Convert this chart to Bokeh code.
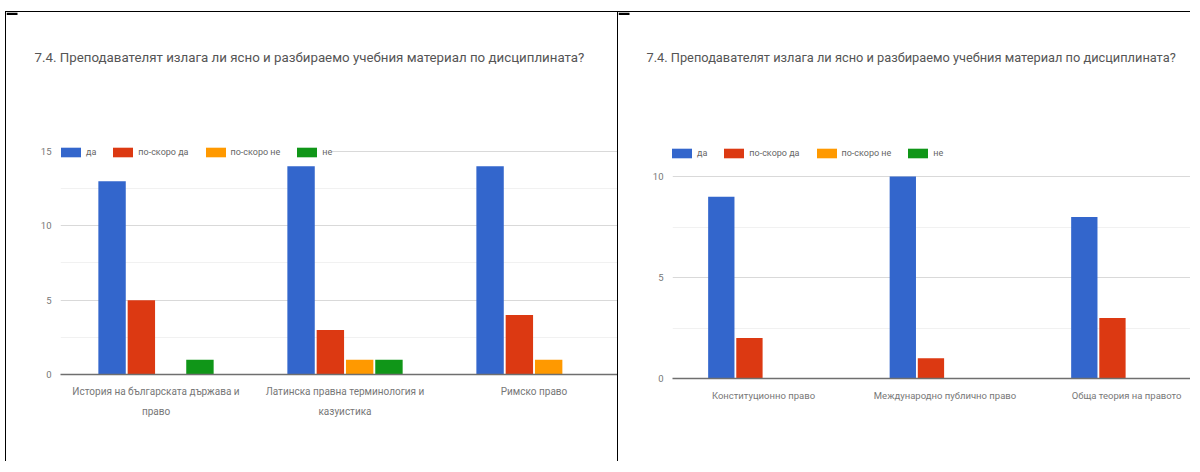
from bokeh.plotting import figure
from bokeh.models import (Range1d, FixedTicker, Legend, LegendItem,
                          ColumnDataSource)
from bokeh.layouts import row, column
from bokeh.transform import dodge
from bokeh.core.properties import value
from bokeh.embed import file_html
from bokeh.resources import INLINE

# ---------------- data ----------------
title_text = "7.4. Преподавателят излага ли ясно и разбираемо учебния материал по дисциплината?"
series = ["да", "по-скоро да", "по-скоро не", "не"]
colors = ["#3366CC", "#DC3912", "#FF9900", "#109618"]

left_categories = ["История на българската държава и право",
                   "Латинска правна терминология и казуистика",
                   "Римско право"]
left_tick_labels = ["История на българската държава и\nправо",
                    "Латинска правна терминология и\nказуистика",
                    "Римско право"]
left_da = [13, 14, 14]
left_po_skoro_da = [5, 3, 4]
left_po_skoro_ne = [0, 1, 1]
left_ne = [1, 1, 0]
left_y_ticks = [0, 5, 10, 15]
left_y_minor = [2.5, 7.5, 12.5]

right_categories = ["Конституционно право",
                    "Международно публично право",
                    "Обща теория на правото"]
right_tick_labels = ["Конституционно право",
                     "Международно публично право",
                     "Обща теория на правото"]
right_da = [9, 10, 8]
right_po_skoro_da = [2, 1, 3]
right_po_skoro_ne = [0, 0, 0]
right_ne = [0, 0, 0]
right_y_ticks = [0, 5, 10]
right_y_minor = [2.5, 7.5]

FONT = "Roboto"
HEAD_H = 100
CHART_H = 350


def make_header(width, title_x, title_y, size):
    h = figure(width=width, height=HEAD_H, x_range=Range1d(0, width),
               y_range=Range1d(HEAD_H, 0), min_border=0,
               min_border_left=0, min_border_right=0,
               min_border_top=0, min_border_bottom=0, title=None,
               toolbar_location=None, output_backend="svg")
    h.frame_align = False
    h.axis.visible = False
    h.grid.grid_line_color = None
    h.outline_line_color = None
    # small thick corner mark of the table cell
    h.quad(left=[0], right=[11], top=[0], bottom=[2.5],
           fill_color="#000000", line_color=None)
    h.text(x=[title_x], y=[title_y], text=[title_text],
           text_font=value(FONT), text_font_size=value(size),
           text_color="#555555", text_baseline="middle", text_align="left")
    h.styles = {"border-left": "1px solid #000", "border-top": "1px solid #000"}
    return h


def make_chart(categories, tick_labels, values, width, x_start, x_end,
               y_end, y_ticks, y_minor, min_left, min_bottom, legend_loc,
               xlabel_size):
    idx = list(range(len(categories)))
    data = {"x": idx, "cat": categories}
    for i, v in enumerate(values):
        data["s%d" % i] = v
    src = ColumnDataSource(data)

    p = figure(width=width, height=CHART_H, title=None,
               x_range=Range1d(x_start, x_end), y_range=Range1d(0, y_end),
               min_border_left=min_left, min_border_right=0,
               min_border_top=0, min_border_bottom=min_bottom,
               toolbar_location=None, output_backend="svg")
    p.frame_align = False
    p.outline_line_color = None

    step = 0.155
    renderers = []
    for i, (name, col) in enumerate(zip(series, colors)):
        off = (i - 1.5) * step
        r = p.vbar(x=dodge("x", off, range=p.x_range), top="s%d" % i, bottom=0,
                   width=0.145, source=src, fill_color=col, line_color=None)
        renderers.append(r)

    yt = FixedTicker(ticks=y_ticks, minor_ticks=y_minor)
    p.yaxis.ticker = yt
    p.ygrid.ticker = yt
    p.xgrid.grid_line_color = None
    p.ygrid.grid_line_color = "#d9d9d9"
    p.ygrid.minor_grid_line_color = "#f1f1f1"
    p.yaxis.axis_line_color = None
    p.yaxis.major_tick_line_color = None
    p.yaxis.minor_tick_line_color = None
    p.yaxis.major_tick_out = 0
    p.yaxis.minor_tick_out = 0
    p.yaxis.major_label_standoff = 9
    p.yaxis.major_label_text_font = FONT
    p.yaxis.major_label_text_font_size = "9.5px"
    p.yaxis.major_label_text_color = "#777777"

    p.xaxis.ticker = FixedTicker(ticks=idx)
    p.xaxis.major_label_overrides = {i: t for i, t in zip(idx, tick_labels)}
    p.xaxis.axis_line_color = "#6f6f6f"
    p.xaxis.axis_line_width = 1.5
    p.xaxis.major_tick_line_color = None
    p.xaxis.minor_tick_line_color = None
    p.xaxis.major_tick_out = 0
    p.xaxis.minor_tick_out = 0
    p.xaxis.major_label_standoff = 11
    p.xaxis.major_label_text_font = FONT
    p.xaxis.major_label_text_font_size = xlabel_size
    p.xaxis.major_label_text_color = "#777777"
    p.xaxis.major_label_text_line_height = 1.9

    legend = Legend(items=[LegendItem(label=s, renderers=[r])
                           for s, r in zip(series, renderers)],
                    location=legend_loc, orientation="horizontal",
                    glyph_width=25, glyph_height=12, label_height=10,
                    label_width=0, label_standoff=3, spacing=14,
                    padding=0, margin=0,
                    border_line_color=None, background_fill_color="white",
                    background_fill_alpha=1.0,
                    label_text_font=FONT, label_text_font_size="9px",
                    label_text_color="#666666")
    p.add_layout(legend)
    p.styles = {"border-left": "1px solid #000"}
    return p


h1 = make_header(612, 28, 45, "13.3px")
c1 = make_chart(left_categories, left_tick_labels,
                [left_da, left_po_skoro_da, left_po_skoro_ne, left_ne],
                width=612, x_start=-0.5053, x_end=2.447,
                y_end=263 / 14.87, y_ticks=left_y_ticks, y_minor=left_y_minor,
                min_left=54, min_bottom=87, legend_loc=(-2, 216),
                xlabel_size="10px")

h2 = make_header(573, 28, 45, "12.8px")
c2 = make_chart(right_categories, right_tick_labels,
                [right_da, right_po_skoro_da, right_po_skoro_ne, right_ne],
                width=573, x_start=-0.5014, x_end=2.358,
                y_end=267 / 20.2, y_ticks=right_y_ticks, y_minor=right_y_minor,
                min_left=54, min_bottom=83, legend_loc=(-3, 219),
                xlabel_size="9.5px")

layout = row(column(h1, c1), column(h2, c2),
             styles={"margin-left": "5px", "margin-top": "11px"})

open("out.html", "w").write(file_html(layout, INLINE))
